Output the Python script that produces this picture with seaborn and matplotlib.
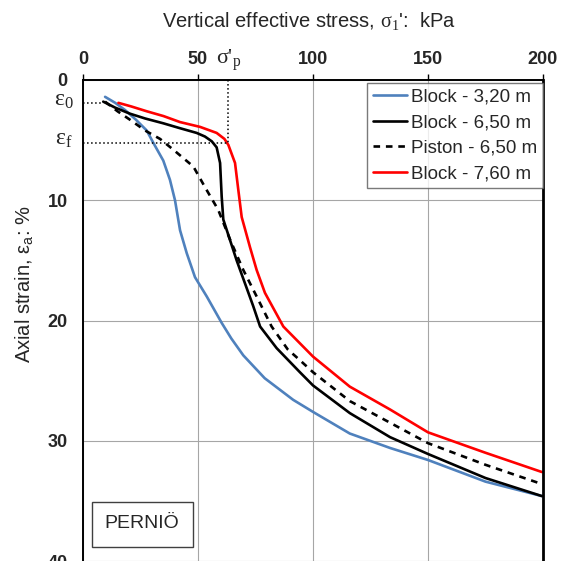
import matplotlib
matplotlib.use("Agg")
import matplotlib.pyplot as plt
from matplotlib.patches import Rectangle
import seaborn as sns
import pandas as pd

# vertical effective stress (kPa) and axial strain (%)
blk320_stress = [9.6, 14, 18.3, 23, 27.7, 30.5, 34.9, 37.8, 40, 42.2, 45.1, 48.7, 53.8, 60.3,
                 64.5, 69.7, 79, 91.4, 100, 116, 133.5, 150, 175, 199.5]
blk320_strain = [1.4, 1.9, 2.5, 3.3, 4.2, 5.2, 6.7, 8.3, 10, 12.5, 14.4, 16.4, 18, 20.2,
                 21.5, 22.9, 24.8, 26.6, 27.6, 29.4, 30.6, 31.6, 33.4, 34.6]

blk650_stress = [8.8, 14, 20.4, 27, 34.9, 42, 49.4, 53, 56, 58.1, 59.6, 60.3, 61, 63.9, 66.8,
                 70.4, 74, 77, 84.2, 94.3, 100, 116, 133.5, 150, 175, 199.5]
blk650_strain = [1.8, 2.3, 2.8, 3.2, 3.6, 4.0, 4.4, 4.7, 5.1, 5.6, 6.9, 9.7, 11.6, 13.3, 15,
                 16.9, 18.8, 20.5, 22.3, 24.3, 25.4, 27.7, 29.7, 31.1, 33.1, 34.6]

pist650_stress = [9.6, 15, 20.4, 27, 33.5, 39.3, 48, 53, 58.8, 64, 69.7, 75.5, 82, 89,
                  94.3, 100, 116, 133.5, 150, 175, 199.5]
pist650_strain = [1.8, 2.6, 3.3, 4.2, 4.9, 5.8, 7.2, 8.9, 10.8, 13.3, 15.8, 18, 20.5, 22.4,
                  23.3, 24.3, 26.7, 28.5, 30.2, 32.0, 33.6]

blk760_stress = [15.4, 21, 27.7, 35, 42.2, 50.9, 58.1, 61.5, 63.2, 66.1, 67.5, 69, 72.6, 75.5,
                 79.1, 87.1, 100, 116, 133.5, 150, 175, 199.5]
blk760_strain = [1.9, 2.2, 2.6, 3.0, 3.5, 3.9, 4.4, 4.9, 5.4, 6.9, 9.1, 11.4, 13.9, 15.8,
                 17.7, 20.5, 23.0, 25.5, 27.4, 29.3, 31.0, 32.6]

series_names = ["Block - 3,20 m", "Block - 6,50 m", "Piston - 6,50 m", "Block - 7,60 m"]
series_stress = [blk320_stress, blk650_stress, pist650_stress, blk760_stress]
series_strain = [blk320_strain, blk650_strain, pist650_strain, blk760_strain]
series_colors = ["#4f81bd", "black", "black", "#ff0000"]
series_styles = ["-", "-", (0, (2.5, 2.2)), "-"]

# preconsolidation markers
sigma_p = 63
eps_0 = 1.9
eps_0_stress = 8.7
eps_f = 5.2

sns.set_style("white")
plt.rcParams["font.family"] = ["Liberation Sans", "DejaVu Sans"]
plt.rcParams["mathtext.fontset"] = "custom"
plt.rcParams["mathtext.rm"] = "Liberation Serif"
plt.rcParams["mathtext.it"] = "Liberation Serif:italic"
plt.rcParams["mathtext.sf"] = "Liberation Sans"

fig = plt.figure(figsize=(5.65, 5.61), dpi=100)
ax = fig.add_axes([83 / 565, 0, 460 / 565, 481 / 561])

for name, xs, ys, c, ls in zip(series_names, series_stress, series_strain, series_colors, series_styles):
    df = pd.DataFrame({"stress": xs, "strain": ys})
    sns.lineplot(data=df, x="stress", y="strain", sort=False, estimator=None,
                 color=c, linestyle=ls, linewidth=1.9, label=name, ax=ax)

ax.set_xlim(0, 200)
ax.set_ylim(40, 0)
ax.set_xticks([0, 50, 100, 150, 200])
ax.set_yticks([0, 10, 20, 30, 40])
ax.xaxis.tick_top()
ax.xaxis.set_label_position("top")
ax.set_xlabel("")
ax.set_ylabel("")
ax.grid(True, color="#a6a6a6", linewidth=0.8)
ax.tick_params(axis="both", direction="out", length=4, width=1, color="black",
               labelsize=13, pad=7)
ax.tick_params(axis="x", pad=5)
for lbl in ax.get_xticklabels() + ax.get_yticklabels():
    lbl.set_fontweight("bold")
for side in ["left", "top", "right"]:
    ax.spines[side].set_color("black")
    ax.spines[side].set_linewidth(1.4)
ax.spines["right"].set_linewidth(2)
ax.spines["bottom"].set_visible(False)

# dotted construction lines
ax.plot([0, eps_0_stress], [eps_0, eps_0], ls=":", color="black", lw=1.1)
ax.plot([0, sigma_p], [eps_f, eps_f], ls=":", color="black", lw=1.1)
ax.plot([sigma_p, sigma_p], [0, eps_f], ls=":", color="black", lw=1.1)

fig.text(309 / 565, 1 - 21 / 561, "Vertical effective stress, $\\mathrm{\\sigma_1}$':  kPa",
         ha="center", va="center", fontsize=14.5)
fig.text(24 / 565, 1 - 284 / 561, "Axial strain, ε$_\\mathsf{a}$: %", rotation=90,
         ha="center", va="center", fontsize=14.5)

ax.text(sigma_p - 5, -1.3, "σ'$_\\mathrm{p}$", family=["Liberation Serif", "DejaVu Serif"],
        fontsize=16, ha="left", va="baseline", clip_on=False)
fig.text(64 / 565, 1 - 101 / 561, "ε$_\\mathrm{0}$", family=["Liberation Serif", "DejaVu Serif"],
         fontsize=17, ha="center", va="center")
fig.text(64 / 565, 1 - 140 / 561, "ε$_\\mathrm{f}$", family=["Liberation Serif", "DejaVu Serif"],
         fontsize=17, ha="center", va="center")

leg = ax.legend(loc="upper right", bbox_to_anchor=(1.0, 1 - 3 / 481), borderaxespad=0,
                fontsize=13.5, frameon=True, fancybox=False, handlelength=1.85,
                handletextpad=0.2, labelspacing=0.45, borderpad=0.3)
leg.get_frame().set_edgecolor("#595959")
leg.get_frame().set_linewidth(1)

ax.add_patch(Rectangle((9 / 460, 1 - 467 / 481), 101 / 460, 45 / 481, transform=ax.transAxes,
                       fill=True, facecolor="white", edgecolor="#404040", lw=1, zorder=5))
ax.text(59 / 460, 1 - 444 / 481, "PERNIÖ", transform=ax.transAxes, ha="center", va="center",
        fontsize=14, zorder=6)

fig.savefig("out.png", dpi=100)
